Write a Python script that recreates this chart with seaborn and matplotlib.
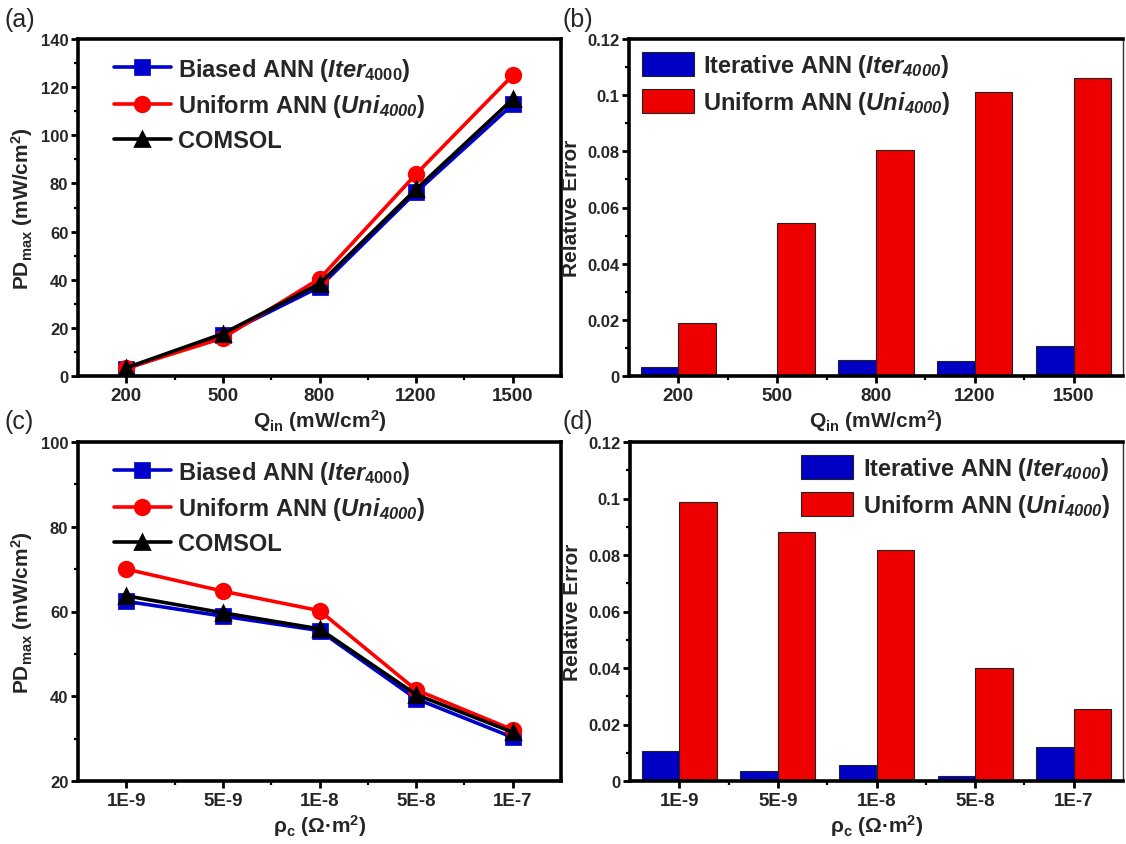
import numpy as np
import pandas as pd
import matplotlib
matplotlib.use("Agg")
import matplotlib.pyplot as plt
import seaborn as sns
from matplotlib.ticker import AutoMinorLocator, FuncFormatter, MultipleLocator, FixedLocator

# ---------------- data ----------------
q_labels = ["200", "500", "800", "1200", "1500"]
rho_labels = ["1E-9", "5E-9", "1E-8", "5E-8", "1E-7"]

pd_q_biased = [3.0, 17.0, 37.0, 76.4, 112.8]
pd_q_uniform = [3.2, 15.8, 40.4, 83.9, 124.9]
pd_q_comsol = [3.4, 17.6, 38.3, 77.6, 115.0]

err_q_iter = [0.0033, 0.0, 0.0057, 0.0054, 0.0108]
err_q_uni = [0.0187, 0.0546, 0.0803, 0.1012, 0.1061]

pd_rho_biased = [62.4, 58.9, 55.5, 39.4, 30.3]
pd_rho_uniform = [70.0, 64.8, 60.2, 41.5, 32.1]
pd_rho_comsol = [63.7, 59.7, 55.9, 40.4, 31.5]

err_rho_iter = [0.0105, 0.0035, 0.0056, 0.0018, 0.0119]
err_rho_uni = [0.0987, 0.0883, 0.0818, 0.0401, 0.0256]

# \mathsf is mapped to bold-italic so that digits can be italic too
line_names = [r"Biased ANN ($\mathit{Iter}_{4000}$)",
              r"Uniform ANN ($\mathsf{Uni}_{\mathsf{4000}}$)",
              "COMSOL"]
bar_names = [r"Iterative ANN ($\mathsf{Iter}_{\mathsf{4000}}$)",
             r"Uniform ANN ($\mathsf{Uni}_{\mathsf{4000}}$)"]

line_colors = ["#0000CC", "#FF0000", "#000000"]
bar_colors = ["#0000C4", "#EE0000"]

# ---------------- style ----------------
sns.set_style("ticks")
plt.rcParams["font.family"] = ["Liberation Sans", "DejaVu Sans"]
plt.rcParams["font.weight"] = "bold"
plt.rcParams["axes.labelweight"] = "bold"
plt.rcParams["mathtext.fontset"] = "custom"
plt.rcParams["mathtext.rm"] = "Liberation Sans:bold"
plt.rcParams["mathtext.bf"] = "Liberation Sans:bold"
plt.rcParams["mathtext.it"] = "Liberation Sans:italic:bold"
plt.rcParams["mathtext.sf"] = "Liberation Sans:italic:bold"

fig = plt.figure(figsize=(11.26, 8.45), dpi=100)
W, H = 1126, 845


def add_ax(x0, y0, x1, y1):
    return fig.add_axes([x0 / W, 1 - y1 / H, (x1 - x0) / W, (y1 - y0) / H])


ax_a = add_ax(78, 40, 561, 377)
ax_b = add_ax(629, 40, 1123, 377)
ax_c = add_ax(78, 443, 561, 782)
ax_d = add_ax(630, 443, 1123, 782)


def style_axes(ax, thin_right=False):
    for s in ["left", "bottom", "top"]:
        ax.spines[s].set_linewidth(2.6)
        ax.spines[s].set_color("black")
    if thin_right:
        ax.spines["right"].set_linewidth(1.0)
        ax.spines["right"].set_color("#333333")
    else:
        ax.spines["right"].set_linewidth(2.6)
        ax.spines["right"].set_color("black")
    ax.tick_params(axis="both", which="major", direction="out", length=5, width=2,
                   color="black", top=False, right=False)
    ax.tick_params(axis="both", which="minor", direction="out", length=3, width=1.6,
                   color="black", top=False, right=False)
    ax.tick_params(axis="x", labelsize=13.5, pad=3)
    ax.tick_params(axis="y", labelsize=12, pad=2)
    for lab in ax.get_xticklabels() + ax.get_yticklabels():
        lab.set_fontweight("bold")
    ax.xaxis.set_minor_locator(FixedLocator([0.5, 1.5, 2.5, 3.5]))
    ax.yaxis.set_minor_locator(AutoMinorLocator(2))
    ax.set_xlim(-0.5, 4.5)


def line_panel(ax, cats, b, u, c, ylim, ystep, xlabel):
    df = pd.DataFrame({
        "x": cats * 3,
        "y": list(b) + list(u) + list(c),
        "series": [line_names[0]] * 5 + [line_names[1]] * 5 + [line_names[2]] * 5,
    })
    sns.pointplot(data=df, x="x", y="y", hue="series", order=cats,
                  hue_order=line_names, palette=line_colors,
                  markers=["s", "o", "^"], linestyles=["-", "-", "-"],
                  errorbar=None, markersize=10.5, linewidth=2.6, ax=ax)
    ax.set_ylim(*ylim)
    ax.yaxis.set_major_locator(MultipleLocator(ystep))
    style_axes(ax)
    ax.set_ylabel(r"PD$_{\mathrm{max}}$ (mW/cm$^{2}$)", fontsize=15, labelpad=4)
    ax.set_xlabel(xlabel, fontsize=15, labelpad=2)
    h, l = ax.get_legend_handles_labels()
    ax.legend(h, l, loc="upper left", frameon=False, fontsize=17,
              handlelength=2.4, handletextpad=0.3, labelspacing=0.42,
              borderaxespad=0.3, bbox_to_anchor=(0.04, 1.0), numpoints=1)


def bar_panel(ax, cats, it, un, xlabel, legloc):
    df = pd.DataFrame({
        "x": cats * 2,
        "y": list(it) + list(un),
        "series": [bar_names[0]] * 5 + [bar_names[1]] * 5,
    })
    sns.barplot(data=df, x="x", y="y", hue="series", order=cats,
                hue_order=bar_names, palette=bar_colors, width=0.76,
                edgecolor="#222222", linewidth=0.8, saturation=1, ax=ax)
    ax.set_ylim(0, 0.12)
    ax.yaxis.set_major_locator(MultipleLocator(0.02))
    ax.yaxis.set_major_formatter(FuncFormatter(lambda v, p: f"{v:g}" if abs(v) > 1e-9 else "0"))
    style_axes(ax, thin_right=True)
    ax.set_ylabel("Relative Error", fontsize=15, labelpad=4)
    ax.set_xlabel(xlabel, fontsize=15, labelpad=2)
    h, l = ax.get_legend_handles_labels()
    ax.legend(h, l, loc=legloc, frameon=False, fontsize=17,
              handlelength=2.2, handleheight=1.2, handletextpad=0.4,
              labelspacing=0.42, borderaxespad=0.15)


q_xlabel = r"Q$_{\mathrm{in}}$ (mW/cm$^{2}$)"
rho_xlabel = r"ρ$_{\mathrm{c}}$ (Ω·m$^{2}$)"

line_panel(ax_a, q_labels, pd_q_biased, pd_q_uniform, pd_q_comsol, (0, 140), 20, q_xlabel)
bar_panel(ax_b, q_labels, err_q_iter, err_q_uni, q_xlabel, "upper left")
line_panel(ax_c, rho_labels, pd_rho_biased, pd_rho_uniform, pd_rho_comsol, (20, 100), 20, rho_xlabel)
bar_panel(ax_d, rho_labels, err_rho_iter, err_rho_uni, rho_xlabel, "upper right")

for txt, x, y in [("(a)", 4, 20), ("(b)", 562, 20), ("(c)", 4, 422), ("(d)", 562, 422)]:
    fig.text(x / W, 1 - y / H, txt, fontsize=18, fontweight="normal",
             ha="left", va="center")

fig.savefig("out.png", dpi=100)
